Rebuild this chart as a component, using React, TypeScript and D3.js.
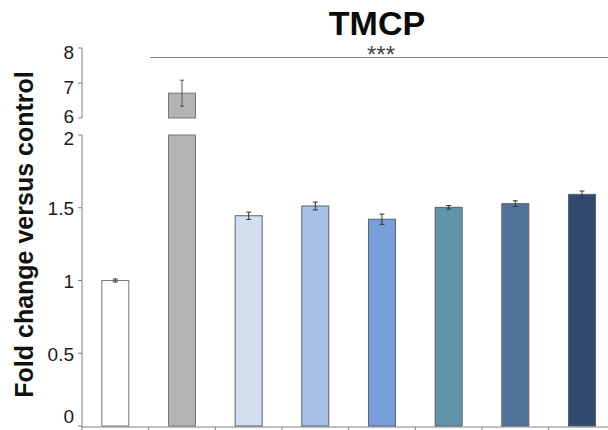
import React from 'react';
import * as d3 from 'd3';

const categories = ['G1', 'G2', 'G3', 'G4', 'G5', 'G6', 'G7', 'G8'];
const values = [1.0, 6.71, 1.445, 1.512, 1.421, 1.503, 1.528, 1.592];
const errors = [0.01, 0.37, 0.025, 0.027, 0.035, 0.012, 0.02, 0.023];
const barColors = ['#ffffff', '#b3b3b3', '#d3dff0', '#a8c1e6', '#789fd9', '#5e95a8', '#53729c', '#324a70'];
const lowerTicks = [0, 0.5, 1, 1.5, 2];
const upperTicks = [6, 7, 8];
const lowerTickLabels = ['0', '0.5', '1', '1.5', '2'];
const upperTickLabels = ['6', '7', '8'];
const title = 'TMCP';
const yLabel = 'Fold change versus control';
const sigLabel = '***';

const W = 608;
const H = 430;
const FONT = 'Arial, "Liberation Sans", Helvetica, sans-serif';

export default function App() {
  const axisX = 82;
  const x = d3.scaleBand<string>().domain(categories).range([axisX, 615.3]).padding(0);
  const barW = x.bandwidth() * 0.405;
  const yLow = d3.scaleLinear().domain([0, 2]).range([426, 135]);
  const yUp = d3.scaleLinear().domain([6, 8]).range([118, 48]);
  const axisColor = '#808080';
  const tickColor = '#808080';
  const lowLabelY = (v: number, y: number) => (v === 0 ? y - 10 : v === 2 ? y + 3.5 : y + 1);
  const upLabelY = (v: number, y: number) => (v === 6 ? y - 2 : y + 4);

  return (
    <svg width={W} height={H} style={{ position: 'absolute', left: 0, top: 0, background: '#fff' }} fontFamily={FONT}>
      <rect x={0} y={0} width={W} height={H} fill="#fff" />
      {/* title */}
      <text x={377} y={35} textAnchor="middle" fontSize={34} fontWeight="bold" fill="#0a0a0a">{title}</text>
      {/* significance */}
      <line x1={150} x2={620} y1={57.5} y2={57.5} stroke="#888" strokeWidth={1.2} />
      <text x={381} y={63} textAnchor="middle" fontSize={24} fill="#444">{sigLabel}</text>
      {/* y label */}
      <text transform={`translate(33,${234.5}) rotate(-90)`} textAnchor="middle" fontSize={25} fontWeight="bold" fill="#111">{yLabel}</text>

      {/* upper axis */}
      <line x1={axisX} x2={axisX} y1={yUp(8)} y2={yUp(6)} stroke={axisColor} strokeWidth={1} />
      {upperTicks.map((t, i) => (
        <g key={'ut' + i}>
          <line x1={axisX - 4} x2={axisX} y1={yUp(t)} y2={yUp(t)} stroke={tickColor} strokeWidth={1} />
          <text x={axisX - 8} y={upLabelY(t, yUp(t))} dy="0.35em" textAnchor="end" fontSize={19} fill="#1a1a1a">{upperTickLabels[i]}</text>
        </g>
      ))}
      {/* lower axis */}
      <line x1={axisX} x2={axisX} y1={yLow(2)} y2={yLow(0) + 1} stroke={axisColor} strokeWidth={1} />
      {lowerTicks.map((t, i) => (
        <g key={'lt' + i}>
          <line x1={axisX - 4} x2={axisX} y1={yLow(t)} y2={yLow(t)} stroke={tickColor} strokeWidth={1} />
          <text x={axisX - 8} y={lowLabelY(t, yLow(t))} dy="0.35em" textAnchor="end" fontSize={19} fill="#1a1a1a">{lowerTickLabels[i]}</text>
        </g>
      ))}
      {/* x axis */}
      <line x1={axisX} x2={620} y1={yLow(0) + 1} y2={yLow(0) + 1} stroke={axisColor} strokeWidth={1} />
      {categories.map((c, i) => (
        <line key={'xt' + i} x1={(x(c) as number)} x2={(x(c) as number)} y1={yLow(0) + 1} y2={yLow(0) + 5} stroke={tickColor} strokeWidth={1} />
      ))}

      {/* bars */}
      {categories.map((c, i) => {
        const cx = (x(c) as number) + x.bandwidth() / 2;
        const v = values[i];
        const e = errors[i];
        const stroke = i < 2 ? '#777' : '#5a6070';
        if (v <= 2) {
          return (
            <g key={'b' + i}>
              <rect x={cx - barW / 2} y={yLow(v)} width={barW} height={yLow(0) - yLow(v)} fill={barColors[i]} stroke={stroke} strokeWidth={1} />
              <line x1={cx} x2={cx} y1={yLow(v + e)} y2={yLow(v - e)} stroke="#333" strokeWidth={1} />
              <line x1={cx - 2.5} x2={cx + 2.5} y1={yLow(v + e)} y2={yLow(v + e)} stroke="#333" strokeWidth={1} />
              <line x1={cx - 2.5} x2={cx + 2.5} y1={yLow(v - e)} y2={yLow(v - e)} stroke="#333" strokeWidth={1} />
            </g>
          );
        }
        return (
          <g key={'b' + i}>
            <rect x={cx - barW / 2} y={yLow(2)} width={barW} height={yLow(0) - yLow(2)} fill={barColors[i]} stroke={stroke} strokeWidth={1} />
            <rect x={cx - barW / 2} y={yUp(v)} width={barW} height={yUp(6) - yUp(v)} fill={barColors[i]} stroke={stroke} strokeWidth={1} />
            <line x1={cx} x2={cx} y1={yUp(v + e)} y2={yUp(v - e)} stroke="#555" strokeWidth={1} />
            <line x1={cx - 2} x2={cx + 2} y1={yUp(v + e)} y2={yUp(v + e)} stroke="#555" strokeWidth={1} />
            <line x1={cx - 2} x2={cx + 2} y1={yUp(v - e)} y2={yUp(v - e)} stroke="#555" strokeWidth={1} />
          </g>
        );
      })}
    </svg>
  );
}
